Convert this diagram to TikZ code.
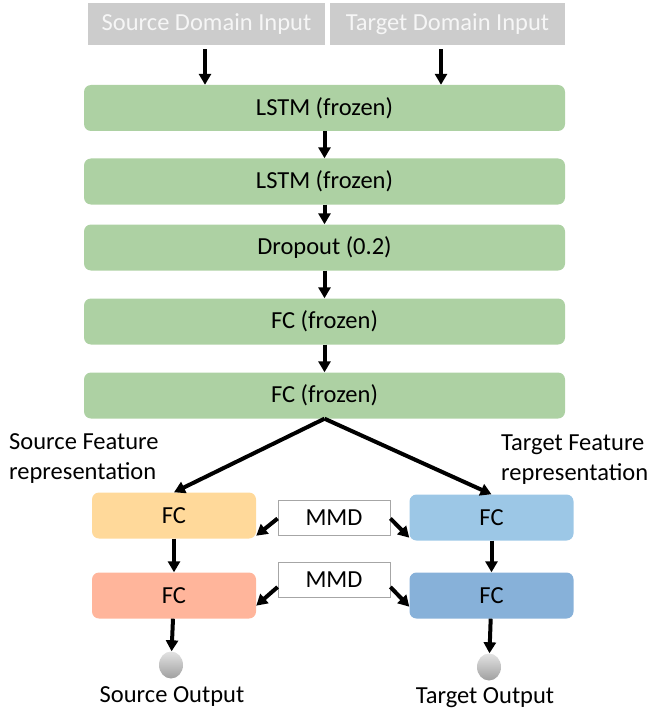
\documentclass[tikz,border=0pt]{standalone}
\usepackage{fontspec}
\setmainfont{Carlito}
\usetikzlibrary{arrows.meta,shapes.geometric}
\definecolor{ingray}{HTML}{CCCCCC}
\definecolor{intext}{HTML}{F6F6F6}
\definecolor{lgreen}{HTML}{ADD1A3}
\definecolor{lorange}{HTML}{FFD99A}
\definecolor{lsalmon}{HTML}{FFB59B}
\definecolor{lblue}{HTML}{9CC7E6}
\definecolor{dblue}{HTML}{87B1D9}
\begin{document}
\begin{tikzpicture}[x=1pt,y=-1pt,
  font=\fontsize{24.5}{30}\selectfont,
  inbox/.style={fill=ingray, text=intext, minimum height=42, inner sep=0},
  gbox/.style={fill=lgreen, rounded corners=7pt, minimum width=481, minimum height=46, inner sep=0},
  fcbox/.style={rounded corners=7pt, minimum width=164, minimum height=46, inner sep=0},
  mmdbox/.style={draw=gray!70, line width=0.8pt, fill=white, minimum width=112, minimum height=35, inner sep=0},
  outball/.style={ellipse, minimum width=24, minimum height=27, inner sep=0, top color=gray!22, bottom color=gray!75},
  arr/.style={-{Triangle[length=11pt,width=12pt]}, line width=4pt}]
\useasboundingbox (0,0) rectangle (650,714);
% inputs
\node[inbox, minimum width=237] (si) at (206.5,24) {Source Domain Input};
\node[inbox, minimum width=235] (ti) at (447.5,24) {Target Domain Input};
% stack
\node[gbox] (l1) at (324.5,108) {LSTM (frozen)};
\node[gbox] (l2) at (324.5,181.5) {LSTM (frozen)};
\node[gbox] (dr) at (324.5,247.5) {Dropout (0.2)};
\node[gbox] (f1) at (324.5,321.5) {FC (frozen)};
\node[gbox] (f2) at (324.5,395.5) {FC (frozen)};
% branches
\node[fcbox, fill=lorange] (s1) at (174,515.5) {FC};
\node[fcbox, fill=lblue] (t1) at (491.5,517.5) {FC};
\node[fcbox, fill=lsalmon] (s2) at (174,595.5) {FC};
\node[fcbox, fill=dblue] (t2) at (491.5,595.5) {FC};
\node[mmdbox] (m1) at (334,517.5) {MMD};
\node[mmdbox] (m2) at (334,580) {MMD};
\node[outball] (so) at (171,665) {};
\node[outball] (to) at (489,667) {};
% labels
\node[anchor=north west, align=left, inner sep=0] (sl) at (9,433) {Source Feature\\representation};
\node[anchor=north west, align=left, inner sep=0] (tl) at (501,435) {Target Feature\\representation};
\node (sol) at (172,697) {Source Output};
\node (tol) at (485,698) {Target Output};
% arrows
\draw[arr] ([xshift=-1.5pt,yshift=-4pt]si.south) -- ([xshift=-1.5pt]si.south |- l1.north);
\draw[arr] ([xshift=-6.5pt,yshift=-4pt]ti.south) -- ([xshift=-6.5pt]ti.south |- l1.north);
\draw[arr] (l1) -- (l2);
\draw[arr] (l2) -- (dr);
\draw[arr] (dr) -- (f1);
\draw[arr] (f1) -- (f2);
\draw[arr] (f2.south) -- (s1.north);
\draw[arr] (f2.south) -- (t1.north);
\draw[arr] ([yshift=-1pt]m1.west) -- ([yshift=3pt]s1.south east);
\draw[arr] ([yshift=-1pt]m1.east) -- ([yshift=3pt]t1.south west);
\draw[arr] ([yshift=-7pt]m2.west) -- ([yshift=13pt]s2.south east);
\draw[arr] ([yshift=-7pt]m2.east) -- ([yshift=12pt]t2.south west);
\draw[arr] (s1) -- (s2);
\draw[arr] (t1) -- (t2);
\draw[arr] (s2) -- (so);
\draw[arr] (t2) -- (to);
\end{tikzpicture}
\end{document}
